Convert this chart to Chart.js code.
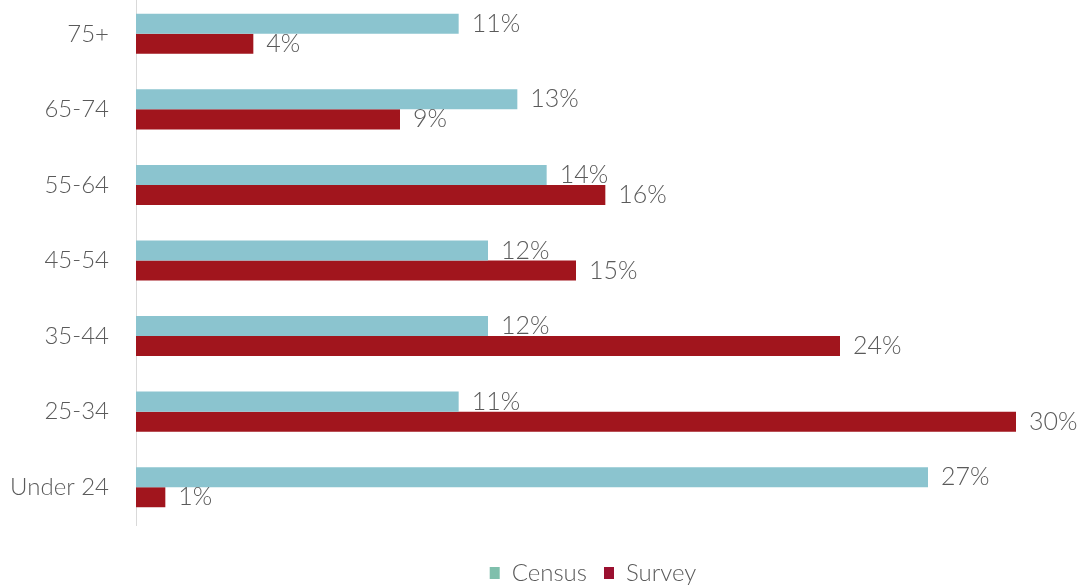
<!DOCTYPE html>
<html>
<head>
<meta charset="utf-8">
<script src="https://cdn.jsdelivr.net/npm/chart.js@4/dist/chart.umd.min.js"></script>
<style>
  html, body { margin: 0; padding: 0; background: #ffffff; overflow: hidden; }
  #wrap { width: 1081px; height: 599px; margin-top: -4px; }
</style>
</head>
<body>
<div id="wrap"><canvas id="ageChart"></canvas></div>
<script>
// Age groups, top to bottom
const ageGroups = ['75+', '65-74', '55-64', '45-54', '35-44', '25-34', 'Under 24'];
// Share of population by age group (%)
const censusShare = [11, 13, 14, 12, 12, 11, 27];
// Share of survey respondents by age group (%)
const surveyShare = [4, 9, 16, 15, 24, 30, 1];

const FONT = 'Lato, "Open Sans", sans-serif';
const TEXT_GREY = '#5a5a5a';

// Writes "NN%" just past the end of every bar
const valueLabels = {
  id: 'valueLabels',
  afterDatasetsDraw(chart) {
    const ctx = chart.ctx;
    ctx.save();
    ctx.font = '300 25px ' + FONT;
    ctx.fillStyle = TEXT_GREY;
    ctx.textAlign = 'left';
    ctx.textBaseline = 'middle';
    chart.data.datasets.forEach((ds, i) => {
      chart.getDatasetMeta(i).data.forEach((bar, j) => {
        ctx.fillText(ds.data[j] + '%', bar.x + 13, bar.y);
      });
    });
    ctx.restore();
  }
};

// Centres the legend under the plot rather than the whole canvas
const legendShift = {
  id: 'legendShift',
  afterLayout(chart) {
    const lg = chart.legend;
    if (!lg) return;
    const dx = 85;
    lg.left += dx;
    lg.right += dx;
  }
};

new Chart(document.getElementById('ageChart'), {
  type: 'bar',
  data: {
    labels: ageGroups,
    datasets: [
      {
        label: 'Census',
        data: censusShare,
        backgroundColor: '#8bc4cf',
        categoryPercentage: 0.53,
        barPercentage: 1.0
      },
      {
        label: 'Survey',
        data: surveyShare,
        backgroundColor: '#a1151d',
        categoryPercentage: 0.53,
        barPercentage: 1.0
      }
    ]
  },
  options: {
    indexAxis: 'y',
    responsive: true,
    maintainAspectRatio: false,
    animation: false,
    layout: { padding: { top: 0, right: 65, left: 0, bottom: 0 } },
    scales: {
      x: {
        min: 0,
        max: 30,
        display: true,
        grid: { display: false },
        border: { display: false },
        ticks: { display: false },
        // empty band between the bars and the legend
        afterFit(scale) { scale.height = 19; }
      },
      y: {
        grid: { display: false, drawTicks: false },
        border: { display: true, color: '#d9d9d9', width: 1 },
        ticks: {
          color: TEXT_GREY,
          font: { family: FONT, size: 24, weight: '300' },
          padding: 27
        },
        // fixed label column; category band flush with the plot edges
        afterFit(scale) {
          scale.width = 136;
          scale.paddingTop = 0;
          scale.paddingBottom = 0;
        }
      }
    },
    plugins: {
      legend: {
        position: 'bottom',
        labels: {
          color: TEXT_GREY,
          font: { family: FONT, size: 24, weight: '300' },
          boxWidth: 10,
          boxHeight: 12,
          padding: 17,
          generateLabels(chart) {
            const swatch = ['#7fbfac', '#9b1030'];
            return chart.data.datasets.map((ds, i) => ({
              text: ds.label,
              fillStyle: swatch[i],
              strokeStyle: swatch[i],
              lineWidth: 0,
              fontColor: TEXT_GREY,
              datasetIndex: i,
              hidden: false
            }));
          }
        }
      },
      tooltip: { enabled: false }
    }
  },
  plugins: [valueLabels, legendShift]
});
</script>
</body>
</html>
